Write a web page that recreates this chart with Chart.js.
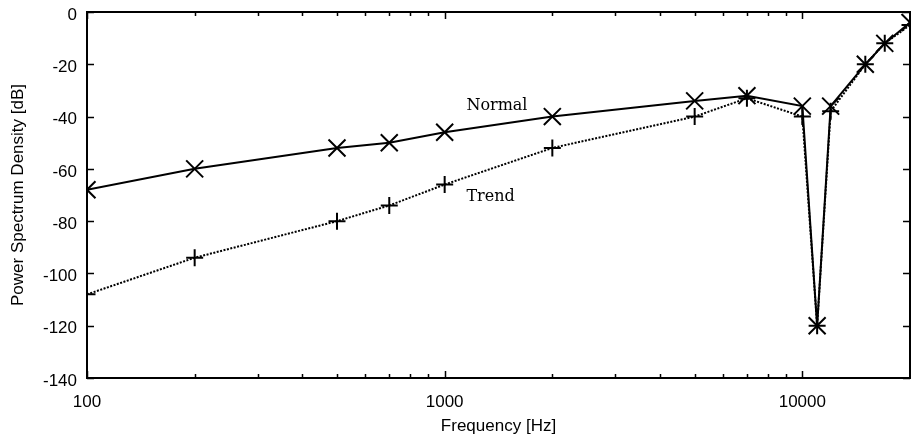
<!DOCTYPE html>
<html>
<head>
<meta charset="utf-8">
<script src="https://cdn.jsdelivr.net/npm/chart.js@4/dist/chart.umd.min.js"></script>
<style>
    html, body { margin: 0; padding: 0; background: #fff; }
    #wrap { width: 911px; height: 438px; }
</style>
</head>
<body>
<div id="wrap"><canvas id="psdChart" width="911" height="438"></canvas></div>
<script>
// frequencies [Hz] and levels [dB]
const freqs = [100, 200, 500, 700, 1000, 2000, 5000, 7000, 10000, 11000, 12000, 15000, 17000, 20000];
const normalDb = [-68, -60, -52, -50, -46, -40, -34, -32, -36, -120, -36, -20, -12, -4];
const trendDb = [-108, -94, -80, -74, -66, -52, -40, -33, -40, -120, -38, -20, -12, -5];

// axis ticks
const xTicks = [100, 200, 300, 400, 500, 600, 700, 800, 900, 1000, 2000, 3000, 4000, 5000, 6000, 7000, 8000, 9000, 10000, 20000];
const xLabels = [100, 1000, 10000];
const yTicks = [0, -20, -40, -60, -80, -100, -120, -140];

// in-plot text labels, placed in data coordinates
const notes = [
    { text: 'Normal', x: 1150, y: -35.8 },
    { text: 'Trend', x: 1150, y: -70.6 }
];

const tickFont = { family: '"Liberation Sans", Arial, sans-serif', size: 17 };

// box frame with inward ticks on all four sides
const framePlugin = {
    id: 'frame',
    afterDraw(chart) {
        const { ctx, chartArea: a, scales } = chart;
        ctx.save();
        ctx.strokeStyle = '#000';
        ctx.lineWidth = 1.5;
        ctx.beginPath();
        scales.y.ticks.forEach(t => {
            const py = Math.round(scales.y.getPixelForValue(t.value)) + 0.5;
            ctx.moveTo(a.left, py); ctx.lineTo(a.left + 7, py);
            ctx.moveTo(a.right, py); ctx.lineTo(a.right - 7, py);
        });
        scales.x.ticks.forEach(t => {
            const px = Math.round(scales.x.getPixelForValue(t.value)) + 0.5;
            const len = xLabels.includes(t.value) ? 7 : 4;
            ctx.moveTo(px, a.bottom); ctx.lineTo(px, a.bottom - len);
            ctx.moveTo(px, a.top); ctx.lineTo(px, a.top + len);
        });
        ctx.stroke();
        ctx.lineWidth = 2;
        ctx.strokeRect(a.left, a.top, a.right - a.left, a.bottom - a.top);

        // series names
        ctx.fillStyle = '#000';
        ctx.font = '16px "DejaVu Serif", serif';
        ctx.textAlign = 'left';
        ctx.textBaseline = 'middle';
        notes.forEach(n => {
            ctx.fillText(n.text, scales.x.getPixelForValue(n.x), scales.y.getPixelForValue(n.y));
        });
        ctx.restore();
    }
};

new Chart(document.getElementById('psdChart'), {
    type: 'line',
    data: {
        labels: freqs,
        datasets: [{
            label: 'Trend',
            data: freqs.map((f, i) => ({ x: f, y: trendDb[i] })),
            borderColor: '#000',
            borderWidth: 2,
            borderDash: [2, 1.5],
            pointStyle: 'cross',
            pointRadius: 8.5,
            pointBorderWidth: 2,
            pointBorderColor: '#000',
            fill: false,
            tension: 0
        }, {
            label: 'Normal',
            data: freqs.map((f, i) => ({ x: f, y: normalDb[i] })),
            borderColor: '#000',
            borderWidth: 2,
            pointStyle: 'crossRot',
            pointRadius: 12,
            pointBorderWidth: 2,
            pointBorderColor: '#000',
            fill: false,
            tension: 0
        }]
    },
    options: {
        responsive: false,
        animation: false,
        layout: { autoPadding: false, padding: { top: 12, right: 1, left: 0, bottom: 0 } },
        plugins: {
            legend: { display: false },
            tooltip: { enabled: false }
        },
        scales: {
            x: {
                type: 'logarithmic',
                min: 100,
                max: 20000,
                afterBuildTicks: s => { s.ticks = xTicks.map(v => ({ value: v })); },
                afterFit: s => { s.height = 60; s.paddingLeft = 0; s.paddingRight = 0; },
                grid: { display: false, drawTicks: false },
                border: { display: false },
                ticks: {
                    autoSkip: false,
                    maxRotation: 0,
                    padding: 14,
                    color: '#000',
                    font: tickFont,
                    callback: v => xLabels.includes(v) ? String(v) : ''
                },
                title: {
                    display: true,
                    text: 'Frequency [Hz]',
                    color: '#000',
                    font: tickFont,
                    padding: { top: 0, bottom: 1 }
                }
            },
            y: {
                min: -140,
                max: 0,
                afterBuildTicks: s => { s.ticks = yTicks.map(v => ({ value: v })); },
                afterFit: s => { s.width = 87; s.paddingTop = 0; s.paddingBottom = 0; },
                grid: { display: false, drawTicks: false },
                border: { display: false },
                ticks: {
                    padding: 10,
                    labelOffset: 3,
                    color: '#000',
                    font: tickFont,
                    callback: v => String(v)
                },
                title: {
                    display: true,
                    text: 'Power Spectrum Density [dB]',
                    color: '#000',
                    font: tickFont,
                    padding: { top: 8, bottom: 0 }
                }
            }
        }
    },
    plugins: [framePlugin]
});
</script>
</body>
</html>
